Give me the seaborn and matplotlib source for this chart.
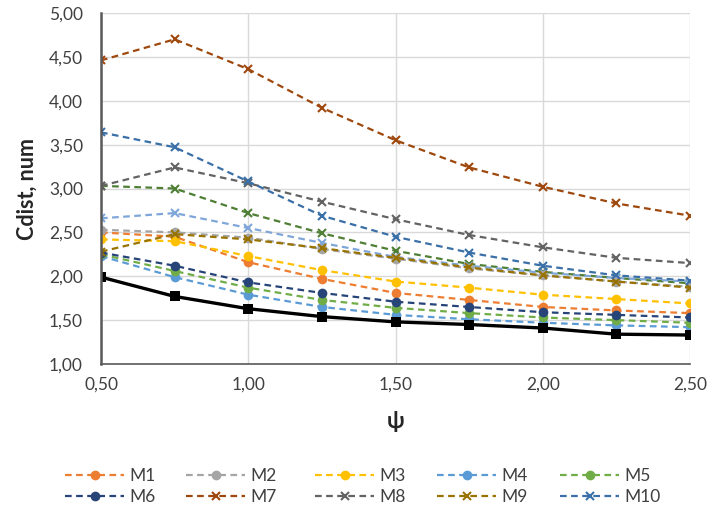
import matplotlib
matplotlib.use("Agg")
import matplotlib.pyplot as plt
import seaborn as sns
import pandas as pd
from matplotlib.ticker import FuncFormatter, MultipleLocator
from matplotlib.lines import Line2D

psi = [0.50, 0.75, 1.00, 1.25, 1.50, 1.75, 2.00, 2.25, 2.50]

M1 = [2.50, 2.45, 2.16, 1.97, 1.81, 1.73, 1.65, 1.61, 1.58]
M2 = [2.53, 2.50, 2.44, 2.31, 2.20, 2.09, 2.01, 1.94, 1.88]
M3 = [2.42, 2.40, 2.23, 2.07, 1.94, 1.87, 1.79, 1.74, 1.69]
M4 = [2.23, 1.99, 1.79, 1.65, 1.56, 1.51, 1.47, 1.44, 1.42]
M5 = [2.25, 2.06, 1.87, 1.73, 1.64, 1.58, 1.53, 1.50, 1.47]
M6 = [2.27, 2.12, 1.93, 1.81, 1.71, 1.65, 1.59, 1.56, 1.53]
M7 = [4.46, 4.70, 4.36, 3.92, 3.55, 3.24, 3.02, 2.83, 2.69]
M8 = [3.03, 3.24, 3.06, 2.85, 2.65, 2.47, 2.33, 2.21, 2.15]
M9 = [2.28, 2.48, 2.42, 2.32, 2.21, 2.10, 2.01, 1.94, 1.87]
M10 = [3.64, 3.47, 3.08, 2.69, 2.45, 2.27, 2.12, 2.01, 1.95]
extra_green = [3.03, 3.00, 2.72, 2.49, 2.29, 2.14, 2.05, 1.98, 1.92]
extra_lblue = [2.66, 2.72, 2.55, 2.38, 2.22, 2.12, 2.04, 1.98, 1.94]
baseline = [1.99, 1.77, 1.63, 1.54, 1.48, 1.45, 1.41, 1.34, 1.33]

series_names = ["M1", "M2", "M3", "M4", "M5", "M6", "M7", "M8", "M9", "M10"]
series_vals = [M1, M2, M3, M4, M5, M6, M7, M8, M9, M10]
colors = ["#ED7D31", "#A5A5A5", "#FFC000", "#5B9BD5", "#70AD47",
          "#264478", "#9E480E", "#636363", "#997300", "#3A6FA8"]
markers = ["o"] * 6 + ["x"] * 4

sns.set_theme(style="white")
plt.rcParams["font.family"] = ["Lato", "DejaVu Sans"]

fig = plt.figure(figsize=(7.18, 5.14), dpi=100)
ax = fig.add_axes([101 / 718, 1 - 364 / 514, (690 - 101) / 718, (364 - 13) / 514])

dash = (3, 2)


def mk_kw(mk, col):
    if mk == "x":
        return dict(marker="x", markersize=6, markeredgewidth=1.5,
                    markeredgecolor=col, markerfacecolor=col)
    return dict(marker=mk, markersize=7 if mk == "o" else 6.5, markeredgewidth=0,
                markeredgecolor=col, markerfacecolor=col)


# extra unlabeled series
for vals, col in [(extra_green, "#4F7F35"), (extra_lblue, "#7FA6D9")]:
    sns.lineplot(x=psi, y=vals, ax=ax, color=col, linewidth=1.6, legend=False,
                 **mk_kw("x", col))
    ax.lines[-1].set_dashes(dash)

handles = []
for name, vals, col, mk in zip(series_names, series_vals, colors, markers):
    sns.lineplot(x=psi, y=vals, ax=ax, color=col, linewidth=1.6, legend=False,
                 **mk_kw(mk, col))
    ax.lines[-1].set_dashes(dash)
    handles.append(Line2D([0], [0], color=col, linewidth=1.6, dashes=dash,
                          label=name, **mk_kw(mk, col)))

sns.lineplot(x=psi, y=baseline, ax=ax, color="black", linewidth=2.4, legend=False,
             **mk_kw("s", "black"))

ax.set_xlim(0.5, 2.5)
ax.set_ylim(1.0, 5.0)
ax.xaxis.set_major_locator(MultipleLocator(0.5))
ax.yaxis.set_major_locator(MultipleLocator(0.5))
fmt = FuncFormatter(lambda v, p: f"{v:.2f}".replace(".", ","))
ax.xaxis.set_major_formatter(fmt)
ax.yaxis.set_major_formatter(fmt)
ax.grid(True, color="#D9D9D9", linewidth=1.0)
ax.set_axisbelow(True)
for s in ["top", "right"]:
    ax.spines[s].set_visible(False)
ax.spines["left"].set_color("#595959")
ax.spines["left"].set_linewidth(1.8)
ax.spines["bottom"].set_color("#595959")
ax.spines["bottom"].set_linewidth(1.2)
ax.tick_params(axis="x", labelsize=12.5, colors="#404040", length=0, pad=9)
ax.tick_params(axis="y", labelsize=12.5, colors="#404040", length=0, pad=13)

ax.set_ylabel("Cdist, num", fontsize=15.5, fontweight="bold", color="#262626", labelpad=8)
ax.set_xlabel("ψ", fontsize=16, fontweight="bold", color="#262626", labelpad=13)

# legend: one small legend per column at fixed positions
col_x = [65, 186, 315, 437, 560]
for j in range(5):
    fig.legend([handles[j], handles[j + 5]], [series_names[j], series_names[j + 5]],
               loc="lower left", bbox_to_anchor=(col_x[j] / 718, 9 / 514),
               frameon=False, fontsize=12.5, handlelength=3.4, labelspacing=0.3,
               handletextpad=0.3, borderpad=0, borderaxespad=0,
               labelcolor="#404040")

fig.savefig("out.png", dpi=100)
